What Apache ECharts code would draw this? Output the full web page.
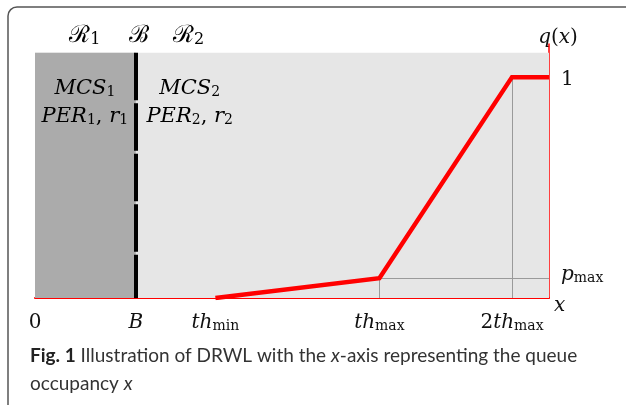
<!DOCTYPE html>
<html>
<head>
<meta charset="utf-8">
<script src="https://cdn.jsdelivr.net/npm/echarts@6/dist/echarts.min.js"></script>
<style>
html,body{margin:0;padding:0;background:#fff;}
#chart{width:626px;height:405px;}
</style>
</head>
<body>
<div id="chart"></div>
<script>
// ---- data (schematic units) ----
const xMax = 100;
const B = 19.6;
const thMin = 35.1;
const thMax = 67.0;
const twoThMax = 92.8;
const pMax = 0.09;
const regionTop = 1.11;
const yMax = 1.15;

const xTickValues = [0, B, thMin, thMax, twoThMax];
const xTickLabels = ['0', 'B', 'th_min', 'th_max', '2th_max'];
const yTopTickValues = [1];
const yTopTickLabels = ['1'];
const yLowTickValues = [pMax];
const yLowTickLabels = ['p_max'];

const curveX = [thMin, thMax, twoThMax, xMax];
const curveY = [0, pMax, 1, 1];

const regionHeaders = ['ℛ_1', 'ℬ', 'ℛ_2'];
const regionHeaderX = [9.7, 20.2, 29.9];
const regionText1 = ['MCS_1', 'PER_1, r_1'];
const regionText2 = ['MCS_2', 'PER_2, r_2'];
const regionTextX = [9.7, 30.1];

const captionBold = 'Fig. 1';
const captionLines = ['Illustration of DRWL with the {i|x}-axis representing the queue', 'occupancy {i|x}'];

// ---- math-ish rich text ----
const SERIF = '"DejaVu Serif","Liberation Serif",serif';
function mathRich(size) {
  return {
    v: {fontFamily: SERIF, fontStyle: 'italic', fontSize: size, color: '#111', lineHeight: size + 6, verticalAlign: 'bottom'},
    n: {fontFamily: SERIF, fontSize: size, color: '#111', lineHeight: size + 6, verticalAlign: 'bottom'},
    s: {fontFamily: SERIF, fontSize: Math.round(size * 0.68), color: '#111', lineHeight: Math.round(size * 0.72), verticalAlign: 'bottom'}
  };
}
function toRich(str) {
  let out = '';
  let i = 0;
  while (i < str.length) {
    const c = str[i];
    if (c === '_') {
      let j = i + 1, t = '';
      while (j < str.length && /[A-Za-z0-9]/.test(str[j])) { t += str[j]; j++; }
      out += '{s|' + t + '}';
      i = j;
      continue;
    }
    const style = /[A-Za-z]/.test(c) ? 'v' : 'n';
    let t = c; let j = i + 1;
    while (j < str.length && str[j] !== '_' && ((/[A-Za-z]/.test(str[j]) ? 'v' : 'n') === style)) { t += str[j]; j++; }
    out += '{' + style + '|' + t + '}';
    i = j;
  }
  return out;
}
function labelFrom(values, labels) {
  return function (v) {
    const k = values.indexOf(v);
    return k >= 0 ? toRich(labels[k]) : '';
  };
}

const chart = echarts.init(document.getElementById('chart'), null, {renderer: 'canvas'});

const yBase = {
  type: 'value', min: 0, max: yMax, position: 'right',
  axisTick: {show: false},
  splitLine: {show: false}
};

const option = {
  animation: false,
  backgroundColor: '#fff',
  title: {
    left: 25,
    top: 337,
    text: '{b|' + captionBold + '} ' + captionLines.join('\n'),
    textStyle: {
      fontFamily: 'Lato', fontSize: 19, fontWeight: 'normal', color: '#333', lineHeight: 28,
      rich: {
        b: {fontFamily: 'Lato', fontSize: 19, fontWeight: 'bold', color: '#222', lineHeight: 28},
        i: {fontFamily: 'Lato', fontSize: 19, fontStyle: 'italic', color: '#333', lineHeight: 28}
      }
    }
  },
  grid: {left: 35, right: 77, top: 44, bottom: 107},
  xAxis: {
    type: 'value', min: 0, max: xMax,
    axisLine: {show: true, lineStyle: {color: '#ff0000', width: 2}},
    axisTick: {show: false},
    splitLine: {show: false},
    axisLabel: {
      customValues: xTickValues,
      margin: 9,
      formatter: labelFrom(xTickValues, xTickLabels),
      rich: mathRich(20)
    },
    name: toRich('x'),
    nameLocation: 'end',
    nameGap: 5,
    nameTextStyle: {rich: mathRich(20), padding: [10, 0, 0, 0]}
  },
  yAxis: [
    Object.assign({}, yBase, {
      axisLine: {show: true, onZero: false, lineStyle: {color: '#ff0000', width: 1.5}},
      axisLabel: {
        customValues: yTopTickValues, margin: 12,
        formatter: labelFrom(yTopTickValues, yTopTickLabels),
        rich: mathRich(20)
      },
      name: toRich('q(x)'),
      nameLocation: 'end',
      nameGap: -4,
      nameTextStyle: {rich: mathRich(20), padding: [0, 0, 0, 18]}
    }),
    Object.assign({}, yBase, {
      axisLine: {show: false},
      axisLabel: {
        customValues: yLowTickValues, margin: 12,
        formatter: labelFrom(yLowTickValues, yLowTickLabels),
        padding: [0, 0, 12, 0],
        rich: mathRich(20)
      }
    })
  ],
  graphic: [
    {type: 'rect', z: -10, silent: true, shape: {x: 8, y: 7, width: 700, height: 500, r: 9},
     style: {fill: 'none', stroke: '#555', lineWidth: 1.5}}
  ],
  series: [
    {
      type: 'line', data: [], silent: true,
      markArea: {
        silent: true,
        label: {show: false},
        data: [
          [{xAxis: 0, yAxis: 0, itemStyle: {color: '#e6e6e6'}}, {xAxis: xMax, yAxis: regionTop}],
          [{xAxis: 0, yAxis: 0, itemStyle: {color: '#ababab'}}, {xAxis: B, yAxis: regionTop}]
        ]
      },
      markLine: {
        silent: true, symbol: 'none', label: {show: false},
        lineStyle: {color: '#9a9a9a', width: 1, type: 'solid'},
        data: [
          [{coord: [thMax, 0]}, {coord: [thMax, pMax]}],
          [{coord: [thMax, pMax]}, {coord: [xMax, pMax]}],
          [{coord: [twoThMax, 0]}, {coord: [twoThMax, 1]}]
        ]
      }
    },
    {
      type: 'line', data: [], silent: true,
      markLine: {
        silent: true, symbol: 'none', label: {show: false},
        lineStyle: {color: '#000', width: 4, type: [47.5, 3], cap: 'butt'},
        data: [[{coord: [B, regionTop]}, {coord: [B, 0]}]]
      }
    },
    {
      type: 'line', silent: true, symbol: 'none',
      lineStyle: {color: '#ff0000', width: 4.5, join: 'miter'},
      data: curveX.map((x, i) => [x, curveY[i]]),
      z: 5
    }
  ]
};
chart.setOption(option);

// region annotation texts, positioned through the axes
const headerY = 1.2;
const g = [];
regionHeaders.forEach((t, i) => {
  const p = chart.convertToPixel({gridIndex: 0}, [regionHeaderX[i], headerY]);
  g.push({type: 'text', x: p[0], y: p[1], silent: true, z: 10,
    style: {text: toRich(t), rich: mathRich(24), align: 'center', verticalAlign: 'middle'}});
});
[regionText1, regionText2].forEach((lines, r) => {
  lines.forEach((t, li) => {
    const p = chart.convertToPixel({gridIndex: 0}, [regionTextX[r], li === 0 ? 0.96 : 0.835]);
    g.push({type: 'text', x: p[0], y: p[1], silent: true, z: 10,
      style: {text: toRich(t), rich: mathRich(21), align: 'center', verticalAlign: 'middle'}});
  });
});
chart.setOption({graphic: option.graphic.concat(g)});
</script>
</body>
</html>
